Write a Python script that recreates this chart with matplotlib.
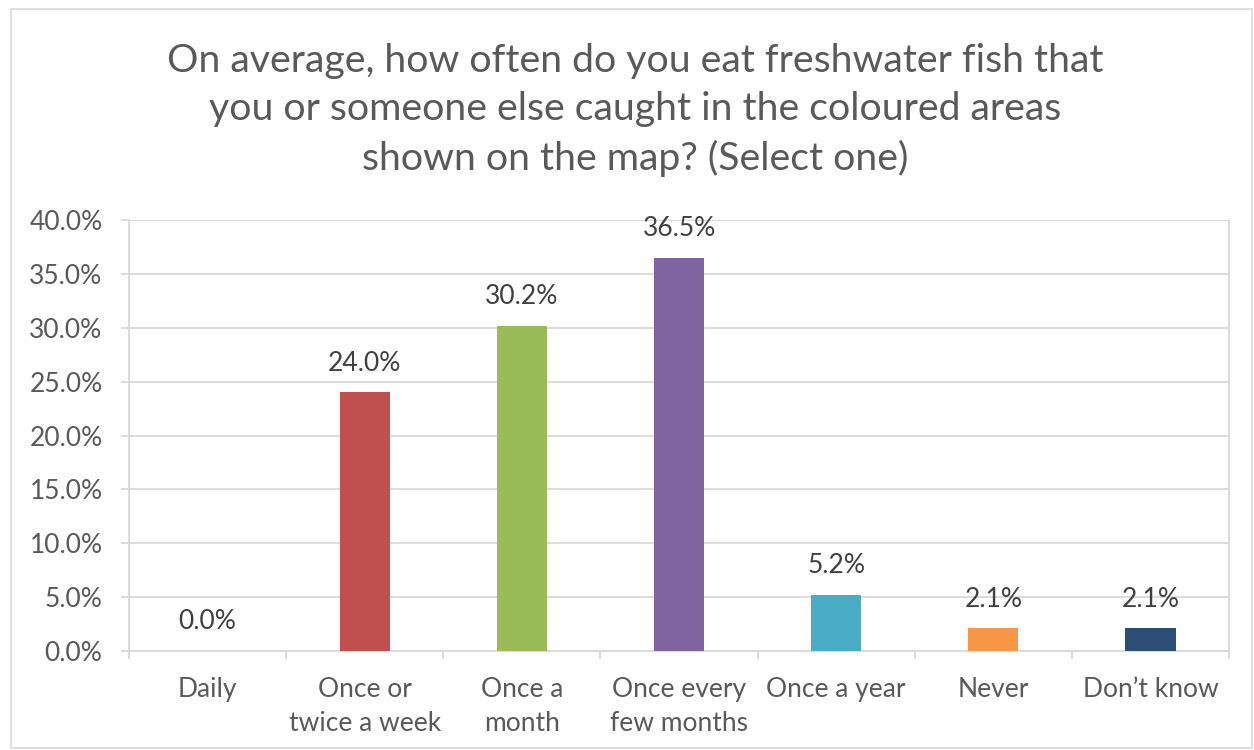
import matplotlib
matplotlib.use("Agg")
import matplotlib.pyplot as plt
from matplotlib.patches import Rectangle
from matplotlib.ticker import FuncFormatter, MultipleLocator
import numpy as np

plt.rcParams['font.family'] = ['Lato', 'DejaVu Sans']

categories = ["Daily", "Once or\ntwice a week", "Once a\nmonth", "Once every\nfew months",
              "Once a year", "Never", "Don\u2019t know"]
values = [0.0, 24.0, 30.2, 36.5, 5.2, 2.1, 2.1]
colors = ["#4F81BD", "#C0504D", "#9BBB59", "#8064A2", "#4BACC6", "#F79646", "#2C4D75"]
title = ("On average, how often do you eat freshwater fish that\n"
         "you or someone else caught in the coloured areas\n"
         "shown on the map? (Select one)")

W, H = 1254, 750
fig = plt.figure(figsize=(W / 100, H / 100), dpi=100)
fig.patches.append(Rectangle((11 / W, 2 / H), (W - 13) / W, (H - 11) / H,
                             transform=fig.transFigure, fill=False,
                             edgecolor="#D9D9D9", linewidth=1.2))

ax = fig.add_axes([129 / W, 1 - 651 / H, (1229 - 129) / W, (651 - 220) / H])

x = np.arange(len(categories))
ax.bar(x, values, width=0.32, color=colors, zorder=3)

ax.set_xlim(-0.5, len(categories) - 0.5)
ax.set_ylim(0, 40)
ax.yaxis.set_major_locator(MultipleLocator(5))
ax.yaxis.set_major_formatter(FuncFormatter(lambda v, p: f"{v:.1f}%"))
ax.grid(axis="y", color="#D9D9D9", linewidth=1.3, zorder=0)

grey = "#D9D9D9"
for s in ["left", "right", "bottom"]:
    ax.spines[s].set_color(grey)
    ax.spines[s].set_linewidth(1.3)
ax.spines["top"].set_visible(False)

ax.tick_params(axis="y", colors=grey, labelcolor="#595959", labelsize=19,
               length=6, width=1.3, pad=13)
ax.set_xticks(x)
ax.set_xticklabels(categories)
ax.tick_params(axis="x", which="major", length=0, labelcolor="#595959",
               labelsize=19, pad=18.5)
ax.set_xticks(np.arange(-0.5, len(categories), 1.0), minor=True)
ax.tick_params(axis="x", which="minor", length=6, width=1.3, color=grey)
for lbl in ax.get_xticklabels():
    lbl.set_linespacing(1.45)

for xi, v in zip(x, values):
    ax.annotate(f"{v:.1f}%", (xi, v), xytext=(0, 12), textcoords="offset points",
                ha="center", va="bottom", fontsize=19, color="#404040")

fig.text(635 / W, 1 - 110 / H, title, ha="center", va="center",
         fontsize=28.3, color="#595959", linespacing=1.42)

fig.savefig("out.png", dpi=100, facecolor="white")
